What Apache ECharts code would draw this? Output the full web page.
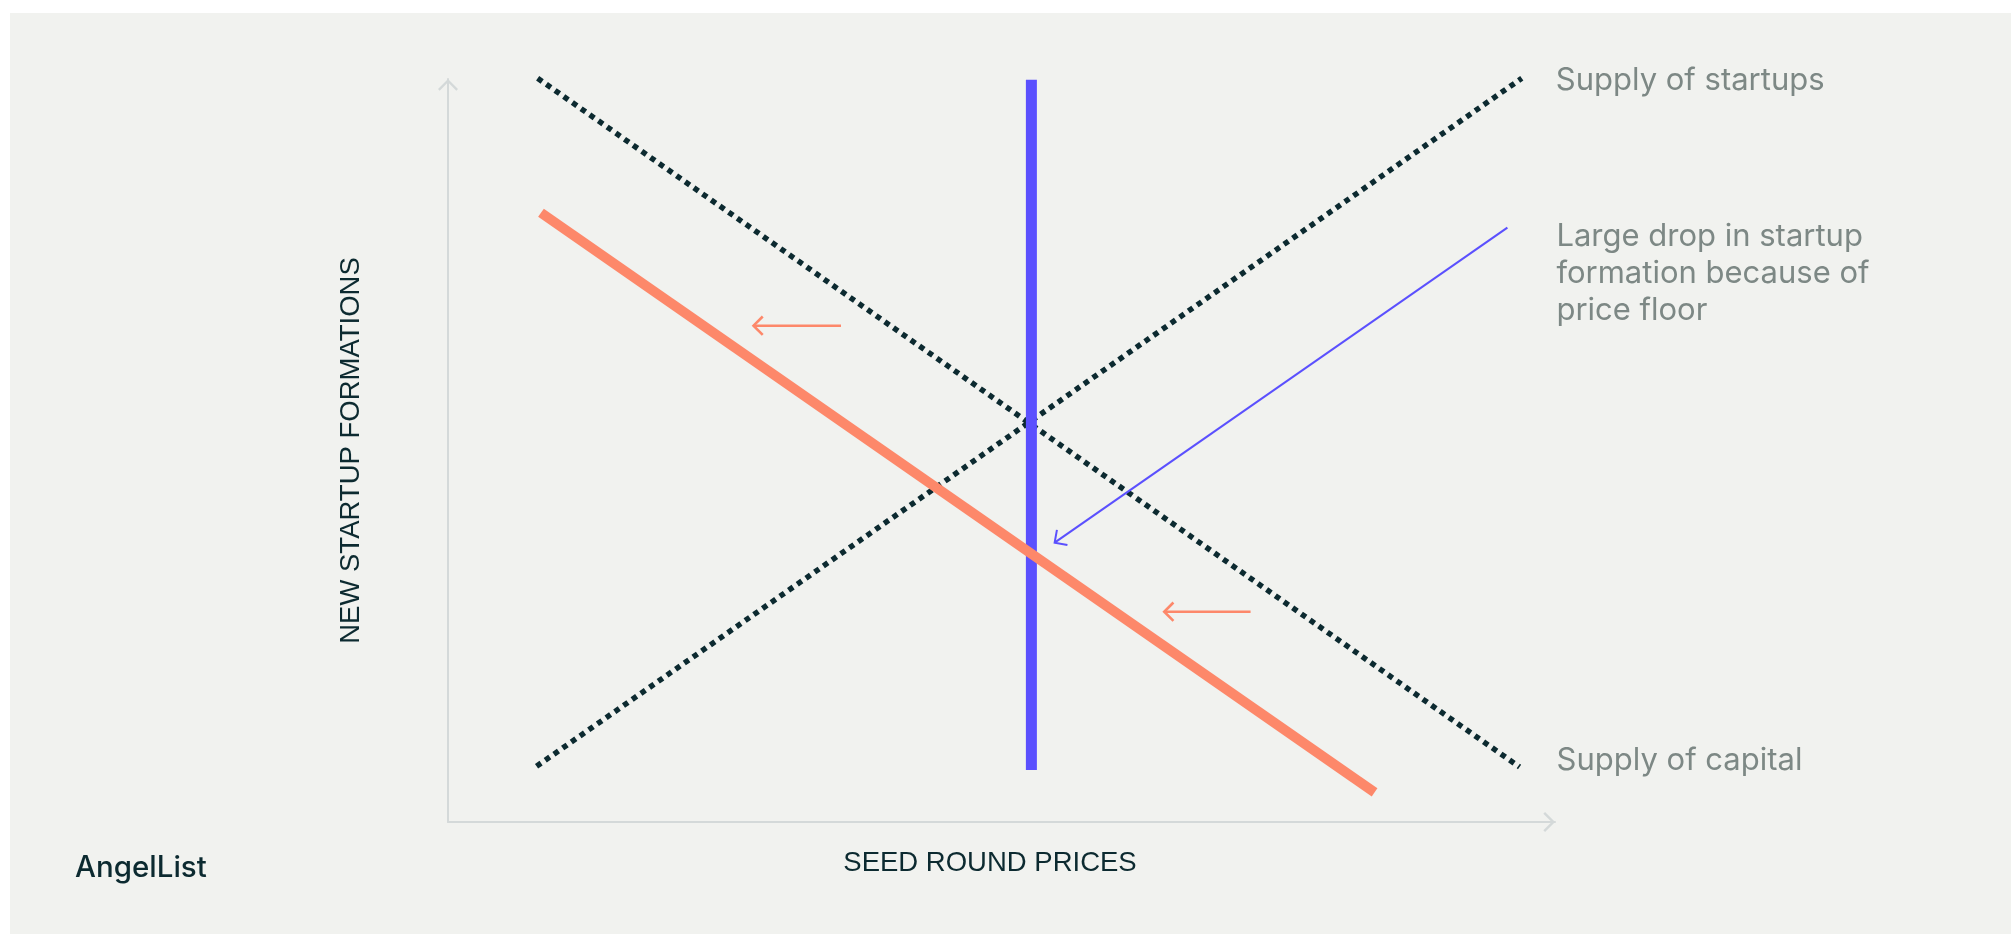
<!DOCTYPE html>
<html>
<head>
<meta charset="utf-8">
<script src="https://cdn.jsdelivr.net/npm/echarts@6/dist/echarts.min.js"></script>
<style>
  html, body { margin: 0; padding: 0; background: #ffffff; }
  #chart { width: 2011px; height: 934px; }
</style>
</head>
<body>
<div id="chart"></div>
<script>
// titles / labels
const xTitle = 'SEED ROUND PRICES';
const yTitle = 'NEW STARTUP FORMATIONS';
const startupsLabel = 'Supply of startups';
const capitalLabel = 'Supply of capital';
const dropLabel = 'Large drop in startup\nformation because of\nprice floor';

// curves as [price, formations], schematic 0-100 units
const startupsSupply = [[8.0, 7.5], [97.0, 100.1]];
const capitalSupply = [[8.1, 100.1], [96.8, 7.4]];
const shiftedSupply = [[8.4, 82.0], [83.7, 4.0]];
const priceFloor = [[52.7, 99.9], [52.7, 7.0]];

// arrows as [tailX, tailY, tipX, tipY]
const shiftArrows = [
  [35.5, 66.8, 27.6, 66.8],
  [72.5, 28.3, 64.7, 28.3]
];
const dropArrow = [[95.7, 80.0, 54.8, 37.6]];

const DARK = '#0c2a30';
const GREY = '#7d8885';
const BLUE = '#5b50fe';
const ORANGE = '#fd886a';
const AXIS = '#d4d9d9';

// open chevron, tip sits in the middle of the box so it lands on the line end
const chevron = 'path://M10,-11.6L10.01,-11.6L10,-11.6Z M10,0L20,10L18.3,11.7L10,3.4L1.7,11.7L0,10Z';

const arrowRender = (color, width, text) => (params, api) => {
  const a = api.coord([api.value(0), api.value(1)]);
  const b = api.coord([api.value(2), api.value(3)]);
  const ang = Math.atan2(b[1] - a[1], b[0] - a[0]);
  const h = 13;
  const p1 = [b[0] - h * Math.cos(ang - Math.PI / 4), b[1] - h * Math.sin(ang - Math.PI / 4)];
  const p2 = [b[0] - h * Math.cos(ang + Math.PI / 4), b[1] - h * Math.sin(ang + Math.PI / 4)];
  const children = [
    { type: 'line', shape: { x1: a[0], y1: a[1], x2: b[0], y2: b[1] },
      style: { stroke: color, lineWidth: width } },
    { type: 'polyline', shape: { points: [p1, b, p2] },
      style: { stroke: color, fill: null, lineWidth: width, lineJoin: 'miter' } }
  ];
  if (text) {
    children.push({
      type: 'text',
      x: a[0] + 49, y: a[1] - 9,
      style: {
        text: text, fill: GREY, fontSize: 31, fontFamily: 'Inter',
        lineHeight: 36.7, align: 'left', verticalAlign: 'top'
      }
    });
  }
  return { type: 'group', children: children };
};

const chart = echarts.init(document.getElementById('chart'));

const lineBase = { type: 'line', symbol: 'none', clip: false, silent: true, z: 3 };

chart.setOption({
  animation: false,
  backgroundColor: '#ffffff',
  graphic: [
    { type: 'rect', z: -10, shape: { x: 10, y: 13, width: 2001, height: 921 },
      style: { fill: '#f1f2ef' } },
    { type: 'text', left: 75, top: 853,
      style: { text: 'AngelList', fill: DARK, fontSize: 29.5, fontWeight: 500, fontFamily: 'Inter' } }
  ],
  grid: { left: 448, right: 456, top: 79, bottom: 112 },
  xAxis: {
    type: 'value', min: 0, max: 100,
    name: xTitle, nameLocation: 'middle', nameGap: 27,
    nameTextStyle: { color: DARK, fontSize: 27.5, fontFamily: 'Liberation Sans', padding: [0, 23, 0, 0] },
    axisLine: { lineStyle: { color: AXIS, width: 2 }, symbol: ['none', chevron], symbolSize: [20, 23.3] },
    axisTick: { show: false }, axisLabel: { show: false }, splitLine: { show: false }
  },
  yAxis: {
    type: 'value', min: 0, max: 100,
    name: yTitle, nameLocation: 'middle', nameGap: 83, nameRotate: 90,
    nameTextStyle: { color: DARK, fontSize: 27.5, fontFamily: 'Liberation Sans' },
    axisLine: { show: true, lineStyle: { color: AXIS, width: 2 }, symbol: ['none', chevron], symbolSize: [20, 23.3] },
    axisTick: { show: false }, axisLabel: { show: false }, splitLine: { show: false }
  },
  series: [
    Object.assign({}, lineBase, {
      name: startupsLabel, data: startupsSupply,
      lineStyle: { color: DARK, width: 5.5, type: [5.5, 5.1], cap: 'butt' },
      endLabel: { show: true, formatter: startupsLabel, distance: 34, color: GREY, fontSize: 31, fontFamily: 'Inter', offset: [0, 2] }
    }),
    Object.assign({}, lineBase, {
      name: capitalLabel, data: capitalSupply,
      lineStyle: { color: DARK, width: 5.5, type: [5.5, 5.1], cap: 'butt' },
      endLabel: { show: true, formatter: capitalLabel, distance: 37, color: GREY, fontSize: 31, fontFamily: 'Inter', offset: [0, -6] }
    }),
    Object.assign({}, lineBase, {
      name: 'Price floor', data: priceFloor,
      lineStyle: { color: BLUE, width: 11, cap: 'butt' }
    }),
    Object.assign({}, lineBase, {
      name: 'Shifted supply', data: shiftedSupply, z: 4,
      lineStyle: { color: ORANGE, width: 10, cap: 'butt' }
    }),
    {
      type: 'custom', name: 'Shift', silent: true, z: 5,
      renderItem: arrowRender(ORANGE, 2.6, null),
      data: shiftArrows
    },
    {
      type: 'custom', name: 'Drop', silent: true, z: 5,
      renderItem: arrowRender(BLUE, 2, dropLabel),
      data: dropArrow
    }
  ]
});
</script>
</body>
</html>
